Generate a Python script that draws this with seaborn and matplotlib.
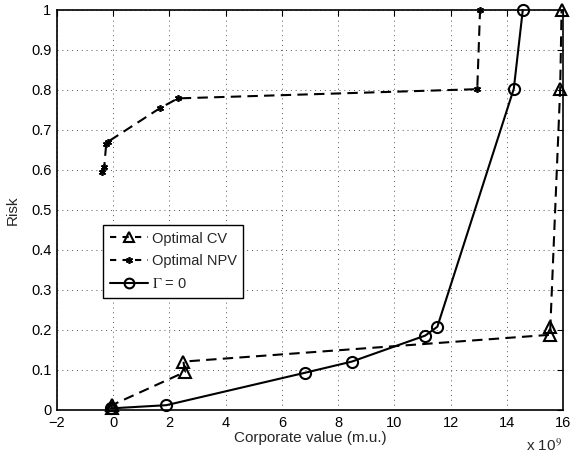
import numpy as np
import pandas as pd
import matplotlib
matplotlib.use("Agg")
import matplotlib.pyplot as plt
import seaborn as sns
from matplotlib.lines import Line2D

# Corporate value in units of 1e9 m.u.
cv_value = [-0.05, -0.05, 2.55, 2.5, 15.55, 15.55, 15.9, 15.95]
cv_risk = [0.004, 0.012, 0.095, 0.121, 0.188, 0.208, 0.803, 1.0]

npv_value = [-0.4, -0.32, -0.25, -0.2, 1.65, 2.3, 12.95, 13.05]
npv_risk = [0.595, 0.607, 0.665, 0.67, 0.754, 0.779, 0.802, 1.0]

g0_value = [-0.08, 1.89, 6.82, 8.49, 11.1, 11.53, 14.25, 14.57]
g0_risk = [0.004, 0.012, 0.093, 0.121, 0.186, 0.208, 0.803, 1.0]

labels = ["Optimal CV", "Optimal NPV", r"$\Gamma$ = 0"]

sns.set_style("white")
plt.rcParams['font.family'] = ['Liberation Sans', 'DejaVu Sans']
plt.rcParams['mathtext.fontset'] = 'stix'

fig = plt.figure(figsize=(5.7, 4.62), dpi=100)
ax = fig.add_axes([0.1, 0.1126, 0.8877, 0.8658])

dash = (5, 3)
df_cv = pd.DataFrame({"v": cv_value, "r": cv_risk})
df_npv = pd.DataFrame({"v": npv_value, "r": npv_risk})
df_g0 = pd.DataFrame({"v": g0_value, "r": g0_risk})

sns.lineplot(data=df_cv, x="v", y="r", ax=ax, sort=False, estimator=None,
             color="black", lw=1.5, marker="^", markersize=8, markerfacecolor="none",
             markeredgecolor="black", markeredgewidth=1.5, linestyle=(0, dash), zorder=3,
             clip_on=False)
sns.lineplot(data=df_npv, x="v", y="r", ax=ax, sort=False, estimator=None,
             color="black", lw=1.5, marker=(6, 2, 0), markersize=5,
             markeredgecolor="black", markeredgewidth=1.2, linestyle=(0, dash), zorder=3,
             clip_on=False)
sns.lineplot(data=df_g0, x="v", y="r", ax=ax, sort=False, estimator=None,
             color="black", lw=1.5, marker="o", markersize=8, markerfacecolor="none",
             markeredgecolor="black", markeredgewidth=1.5, linestyle="-", zorder=3,
             clip_on=False)

ax.set_xlim(-2, 16)
ax.set_ylim(0, 1)
ax.set_xticks(np.arange(-2, 17, 2))
ax.set_xticklabels(["\u22122"] + [str(v) for v in range(0, 17, 2)])
ax.set_yticks(np.arange(0, 1.01, 0.1))
ax.set_yticklabels(["0"] + ["%.1f" % v for v in np.arange(0.1, 0.95, 0.1)] + ["1"])
ax.grid(True, linestyle=(0, (1, 4)), color="#555555", lw=0.7)
ax.tick_params(direction="in", length=4, width=0.8, labelsize=10.5, top=True, right=True,
               colors="black", pad=4)
for s in ax.spines.values():
    s.set_color("black")
    s.set_linewidth(1.2)
ax.set_xlabel("Corporate value (m.u.)", fontsize=11, labelpad=1)
ax.set_ylabel("Risk", fontsize=11, labelpad=8)
fig.text(0.955, 0.035, r"x 10$^9$", fontsize=11, ha="center", va="center")

handles = [
    Line2D([], [], color="black", lw=1.5, linestyle=(0, (3, 3)), marker="^", markersize=7,
           markerfacecolor="none", markeredgewidth=1.5),
    Line2D([], [], color="black", lw=1.5, linestyle=(0, (3, 3)), marker=(6, 2, 0), markersize=5,
           markeredgewidth=1.2),
    Line2D([], [], color="black", lw=1.5, linestyle="-", marker="o", markersize=7,
           markerfacecolor="none", markeredgewidth=1.5),
]
leg = ax.legend(handles, labels, loc="upper left", bbox_to_anchor=(0.091, 0.4625),
                frameon=True, fancybox=False, edgecolor="black", framealpha=1,
                fontsize=10.5, handlelength=2.6, handletextpad=0.3, borderpad=0.45,
                labelspacing=0.6, borderaxespad=0)
leg.get_frame().set_linewidth(1.0)

fig.savefig("out.png", dpi=100)
